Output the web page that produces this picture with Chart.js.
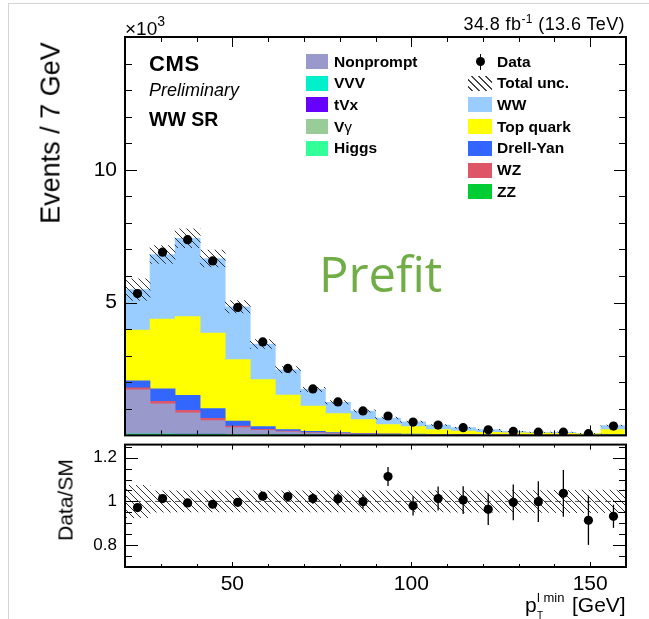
<!DOCTYPE html>
<html><head><meta charset="utf-8">
<script src="https://cdn.jsdelivr.net/npm/chart.js@4.4.1/dist/chart.umd.min.js"></script>
<style>
html,body{margin:0;padding:0;background:#fff;}
#wrap{position:relative;width:649px;height:619px;overflow:hidden;font-family:"Liberation Sans",Arial,Helvetica,sans-serif;color:#000;background:#fff;}
canvas{position:absolute;left:0;}
.t{position:absolute;white-space:nowrap;line-height:1;}
.box{position:absolute;}
</style></head><body>
<div id="wrap">
<div style="position:absolute;left:8px;top:3px;width:641px;height:616px;border-left:1px solid #d4d4d4;border-top:1px solid #d4d4d4;"></div>
<canvas id="main" width="649" height="440" style="top:0"></canvas>
<canvas id="ratio" width="649" height="179" style="top:440px"></canvas>
</div>
<script>
// ---------- data (events in units of 10^3) ----------
const binEdges = [20,27,34,41,48,55,62,69,76,83,90,97,104,111,118,125,132,139,146,153,160];

const zz        = [0.022,0.024,0.022,0.020,0.016,0.012,0.010,0.008,0.007,0.006,0.005,0.004,0.004,0.0035,0.003,0.0025,0.002,0.002,0.0018,0.005];
const higgs     = [0.025,0.024,0.021,0.019,0.015,0.011,0.009,0.007,0.006,0.005,0.004,0.0035,0.003,0.0025,0.002,0.002,0.0018,0.0017,0.0012,0.004];
const vgamma    = [0.008,0.007,0.006,0.006,0.005,0.004,0.003,0.003,0.002,0.002,0.0015,0.0012,0.001,0.001,0.001,0.0008,0.0006,0.0006,0.0005,0.0015];
const tvx       = [0.003,0.003,0.003,0.003,0.003,0.003,0.002,0.0015,0.0012,0.001,0.001,0.0008,0.0007,0.0006,0.0005,0.0005,0.0004,0.0004,0.0003,0.001];
const vvv       = [0.001,0.001,0.001,0.001,0.001,0.001,0.001,0.0005,0.0005,0.0004,0.0004,0.0003,0.0003,0.0003,0.0002,0.0002,0.0002,0.0002,0.0001,0.0005];
const nonprompt = [1.66,1.13,0.80,0.51,0.25,0.16,0.105,0.07,0.045,0.032,0.024,0.016,0.012,0.008,0.004,0.003,0.002,0.001,0.001,0.002];
const wz        = [0.07,0.09,0.09,0.08,0.06,0.04,0.03,0.02,0.015,0.012,0.010,0.008,0.006,0.005,0.004,0.004,0.003,0.003,0.002,0.006];
const drellYan  = [0.27,0.47,0.57,0.37,0.19,0.10,0.06,0.04,0.025,0.020,0.015,0.012,0.010,0.009,0.008,0.006,0.005,0.004,0.003,0.008];
const topQuark  = [1.91,2.63,2.96,2.84,2.31,1.77,1.30,0.95,0.72,0.52,0.35,0.285,0.185,0.13,0.095,0.08,0.074,0.066,0.045,0.19];
const ww        = [1.52,2.43,2.95,2.81,1.99,1.34,0.95,0.63,0.425,0.32,0.245,0.18,0.165,0.13,0.10,0.05,0.03,0.036,0.016,0.155];

const dataVals  = [5.34,6.90,7.37,6.57,4.82,3.52,2.52,1.75,1.26,0.92,0.73,0.50,0.39,0.29,0.21,0.15,0.12,0.12,0.065,0.35];
const dataErr   = [0.073,0.083,0.086,0.081,0.069,0.059,0.050,0.042,0.035,0.030,0.027,0.022,0.020,0.017,0.015,0.012,0.011,0.011,0.008,0.019];
const totalUnc  = [0.074,0.049,0.048,0.048,0.048,0.048,0.048,0.048,0.048,0.048,0.048,0.048,0.048,0.049,0.049,0.050,0.050,0.051,0.052,0.052];

const ratioVals = [0.972,1.013,0.993,0.987,0.996,1.024,1.022,1.013,1.012,0.999,1.114,0.980,1.013,1.006,0.964,0.996,0.999,1.037,0.914,0.932];
const ratioErr  = [0.013,0.012,0.012,0.012,0.014,0.017,0.020,0.024,0.028,0.033,0.043,0.044,0.055,0.063,0.072,0.082,0.093,0.107,0.113,0.053];

// tick values
const xMajorTicks = [50,100,150];
const xMinorTicks = [30,40,60,70,80,90,110,120,130,140];
const mainYMajor  = [5,10];
const mainYMinor  = [1,2,3,4,6,7,8,9,11,12,13,14];
const ratioYMajor = [0.8,1,1.2];
const ratioYMinor = [0.75,0.85,0.9,0.95,1.05,1.1,1.15,1.25];

// processes (stack order bottom -> top)
const processNames  = ['ZZ','Higgs','Vγ','tVx','VVV','Nonprompt','WZ','Drell-Yan','Top quark','WW'];
const processValues = [zz,higgs,vgamma,tvx,vvv,nonprompt,wz,drellYan,topQuark,ww];
const processColors = ['#00CC33','#33FF99','#99CC99','#6600FF','#00F0CC','#9999CC','#DD5566','#3366FF','#FFFF00','#99CCFF'];

const legendCol1 = ['Nonprompt','VVV','tVx','Vγ','Higgs'];
const legendCol2 = ['Data','Total unc.','WW','Top quark','Drell-Yan','WZ','ZZ'];

// ---------- helpers ----------
const SANS = '"Liberation Sans", Arial, Helvetica, sans-serif';
const binCenters = binEdges.slice(0,-1).map((e,i)=>(e+binEdges[i+1])/2);
const pts = arr => arr.map((v,i)=>({x:binCenters[i], y:v}));
const mcTotal = binCenters.map((_,i)=>processValues.reduce((s,a)=>s+a[i],0));
const colorOf = n => processColors[processNames.indexOf(n)];

function makeHatch(){
  const s=7, c=document.createElement('canvas'); c.width=s; c.height=s;
  const g=c.getContext('2d'); g.strokeStyle='#333'; g.lineWidth=1;
  g.beginPath();
  g.moveTo(0,0); g.lineTo(s,s);
  g.moveTo(-1,s-1); g.lineTo(1,s+1);
  g.moveTo(s-1,-1); g.lineTo(s+1,1);
  g.stroke();
  return g.createPattern(c,'repeat');
}
const hatch = makeHatch();

const axisBox = {
  id:'axisBox',
  afterDraw(chart, args, o){
    const {ctx, chartArea:a} = chart;
    const xs = chart.scales.x, ys = chart.scales.y;
    ctx.save(); ctx.strokeStyle='#000'; ctx.lineWidth=1;
    const vt=(v,len)=>{const p=Math.round(xs.getPixelForValue(v))+0.5;
      ctx.beginPath(); ctx.moveTo(p,a.bottom); ctx.lineTo(p,a.bottom-len);
      ctx.moveTo(p,a.top); ctx.lineTo(p,a.top+len); ctx.stroke();};
    const ht=(v,len)=>{const p=Math.round(ys.getPixelForValue(v))+0.5;
      ctx.beginPath(); ctx.moveTo(a.left,p); ctx.lineTo(a.left+len,p);
      ctx.moveTo(a.right,p); ctx.lineTo(a.right-len,p); ctx.stroke();};
    o.xMajor.forEach(v=>vt(v,o.xMajorLen)); o.xMinor.forEach(v=>vt(v,o.xMinorLen));
    o.yMajor.forEach(v=>ht(v,o.yMajorLen)); o.yMinor.forEach(v=>ht(v,o.yMinorLen));
    ctx.lineWidth=2;
    ctx.strokeRect(a.left, a.top, a.right-a.left, a.bottom-a.top);
    ctx.restore();
  }
};
const errorBars = {
  id:'errorBars',
  afterDatasetsDraw(chart){
    const ctx=chart.ctx;
    chart.data.datasets.forEach((ds,i)=>{
      if(!ds.errors) return;
      const meta=chart.getDatasetMeta(i), ys=chart.scales[meta.yAxisID];
      ctx.save(); ctx.strokeStyle='#000'; ctx.lineWidth=1.3;
      meta.data.forEach((pt,j)=>{
        const v=ds.data[j].y, e=ds.errors[j];
        ctx.beginPath(); ctx.moveTo(pt.x, ys.getPixelForValue(v-e)); ctx.lineTo(pt.x, ys.getPixelForValue(v+e)); ctx.stroke();
      });
      ctx.restore();
    });
  }
};
const unityLine = {
  id:'unityLine',
  beforeDatasetsDraw(chart){
    const {ctx, chartArea:a} = chart; const y=chart.scales.y.getPixelForValue(1);
    ctx.save(); ctx.strokeStyle='#555'; ctx.lineWidth=1; ctx.setLineDash([6,4]);
    ctx.beginPath(); ctx.moveTo(a.left,y); ctx.lineTo(a.right,y); ctx.stroke(); ctx.restore();
  }
};
const noPadV = s => { s.paddingTop=0; s.paddingBottom=0; };
const noPadH = s => { s.paddingLeft=0; s.paddingRight=0; };

Chart.defaults.font.family = SANS;
Chart.defaults.color = '#000';

// ---------- main panel ----------
const stackSets = processNames.map((n,k)=>({
  type:'bar', label:n, data:pts(processValues[k]), backgroundColor:processColors[k],
  borderWidth:0, stack:'mc', order:2
}));
new Chart(document.getElementById('main'), {
  type:'bar',
  data:{ datasets:[
    ...stackSets,
    { type:'bar', label:'Total unc.', data:mcTotal.map((m,i)=>({x:binCenters[i], y:[m*(1-totalUnc[i]), m*(1+totalUnc[i])]})),
      backgroundColor:hatch, borderWidth:0, stack:'unc', grouped:false, order:1 },
    { type:'line', label:'Data', data:pts(dataVals), errors:dataErr, showLine:false, pointRadius:4.6,
      pointBackgroundColor:'#000', pointBorderWidth:0, borderColor:'#000', order:0, stack:'data' }
  ]},
  options:{
    responsive:false, animation:false, events:[],
    datasets:{bar:{barPercentage:1, categoryPercentage:1}},
    layout:{padding:{left:0,right:23,top:37,bottom:4}},
    plugins:{legend:{display:false}, tooltip:{enabled:false},
      axisBox:{xMajor:xMajorTicks,xMinor:xMinorTicks,yMajor:mainYMajor,yMinor:mainYMinor,xMajorLen:10,xMinorLen:5,yMajorLen:12,yMinorLen:7}},
    scales:{
      x:{type:'linear', min:20, max:160, offset:false, display:false,
        afterBuildTicks(s){s.ticks=xMajorTicks.map(v=>({value:v}));}},
      y:{type:'linear', min:0, max:15, stacked:true,
        afterFit(s){s.width=125; noPadV(s);},
        afterBuildTicks(s){s.ticks=mainYMajor.map(v=>({value:v}));},
        grid:{display:false, drawTicks:false}, border:{display:false},
        ticks:{font:{size:21}, color:'#000', padding:8, callback:v=>String(v)}}
    }
  },
  plugins:[axisBox, errorBars]
});

// ---------- ratio panel ----------
new Chart(document.getElementById('ratio'), {
  type:'bar',
  data:{ datasets:[
    { type:'bar', label:'Total unc.', data:totalUnc.map((u,i)=>({x:binCenters[i], y:[1-u,1+u]})), backgroundColor:hatch,
      borderWidth:0, order:1 },
    { type:'line', label:'Data/SM', data:pts(ratioVals), errors:ratioErr, showLine:false, pointRadius:4.6,
      pointBackgroundColor:'#000', pointBorderWidth:0, borderColor:'#000', order:0 }
  ]},
  options:{
    responsive:false, animation:false, events:[],
    datasets:{bar:{barPercentage:1, categoryPercentage:1}},
    layout:{padding:{left:0,right:23,top:3,bottom:0}},
    plugins:{legend:{display:false}, tooltip:{enabled:false},
      axisBox:{xMajor:xMajorTicks,xMinor:xMinorTicks,yMajor:ratioYMajor,yMinor:ratioYMinor,xMajorLen:5,xMinorLen:3,yMajorLen:13,yMinorLen:7}},
    scales:{
      x:{type:'linear', position:'bottom', min:20, max:160, offset:false,
        afterFit(s){s.height=52; noPadH(s);},
        afterBuildTicks(s){s.ticks=xMajorTicks.map(v=>({value:v}));},
        grid:{display:false, drawTicks:false}, border:{display:false},
        ticks:{font:{size:21}, color:'#000', padding:5, maxRotation:0, autoSkip:false, callback:v=>String(v)}},
      y:{type:'linear', min:0.7, max:1.26,
        afterFit(s){s.width=125; noPadV(s);},
        afterBuildTicks(s){s.ticks=ratioYMajor.map(v=>({value:v}));},
        grid:{display:false, drawTicks:false}, border:{display:false},
        ticks:{font:{size:17}, color:'#000', padding:8, callback:v=>String(+(+v).toFixed(2))}}
    }
  },
  plugins:[unityLine, axisBox, errorBars]
});

// ---------- text overlays ----------
const wrap = document.getElementById('wrap');
function txt(html, x, baseline, size, o={}){
  const d=document.createElement('div'); d.className='t'; d.innerHTML=html;
  d.style.fontSize=size+'px';
  d.style.fontFamily=o.family||SANS;
  if(o.weight) d.style.fontWeight=o.weight;
  if(o.style) d.style.fontStyle=o.style;
  if(o.color) d.style.color=o.color;
  if(o.ls) d.style.letterSpacing=o.ls+'px';
  d.style.top=(baseline-(o.asc||0.8465)*size)+'px';
  if(o.align==='right') d.style.right=(649-x)+'px'; else d.style.left=x+'px';
  wrap.appendChild(d); return d;
}
function vtxt(html, cx, cy, size){
  const d=document.createElement('div'); d.className='t'; d.innerHTML=html;
  d.style.fontSize=size+'px'; d.style.left=cx+'px'; d.style.top=cy+'px';
  d.style.transform='translate(-50%,-50%) rotate(-90deg)';
  wrap.appendChild(d);
}

txt('×10<span style="font-size:14px;position:relative;top:-9px">3</span>',125,35,19);
txt('34.8 fb<span style="font-size:12px;position:relative;top:-7px">-1</span> (13.6 TeV)',625,30.7,18,{align:'right',ls:0.4});
txt('CMS',149,71.7,22,{weight:'bold',ls:0.6});
txt('Preliminary',149,96.5,18,{style:'italic'});
txt('WW SR',149,126.7,19.5,{weight:'bold'});
txt('Prefit',319,293,49,{family:'"Open Sans", sans-serif',color:'#70AD47',asc:0.888});

vtxt('Events / 7 GeV',51,133,27);
vtxt('Data/SM',65,500,21);

// x-axis title
txt('p',525,612,21);
txt('l min',537,602.5,13);
txt('T',537,619.5,10);
txt('[GeV]',572,612,21);

// legend
const rowBase = i => 66.7 + 21.7*i;
legendCol1.forEach((n,i)=>{
  const b=document.createElement('div'); b.className='box';
  b.style.cssText+=`left:306px;top:${rowBase(i)-12.7}px;width:22px;height:15px;background:${colorOf(n)};`;
  wrap.appendChild(b);
  const label = n==='Vγ' ? 'V<span style="font-weight:normal">γ</span>' : n;
  txt(label,334,rowBase(i),15.5,{weight:'bold'});
});
legendCol2.forEach((n,i)=>{
  const y=rowBase(i);
  if(n==='Data'){
    const l=document.createElement('div'); l.className='box';
    l.style.cssText+=`left:479.5px;top:${y-13}px;width:1.3px;height:16px;background:#000;`; wrap.appendChild(l);
    const d=document.createElement('div'); d.className='box';
    d.style.cssText+=`left:475.5px;top:${y-9.6}px;width:9.2px;height:9.2px;border-radius:50%;background:#000;`; wrap.appendChild(d);
  } else if(n==='Total unc.'){
    const h=document.createElement('div'); h.className='box';
    h.style.cssText+=`left:468px;top:${y-12.7}px;width:24px;height:15px;background:repeating-linear-gradient(45deg,#fff 0px,#fff 2.6px,#444 2.6px,#444 3.6px,#fff 3.6px,#fff 5px);`;
    wrap.appendChild(h);
  } else {
    const b=document.createElement('div'); b.className='box';
    b.style.cssText+=`left:468px;top:${y-12.7}px;width:24px;height:15px;background:${colorOf(n)};`;
    wrap.appendChild(b);
  }
  txt(n,497,y,15.5,{weight:'bold'});
});
</script>
</body></html>
